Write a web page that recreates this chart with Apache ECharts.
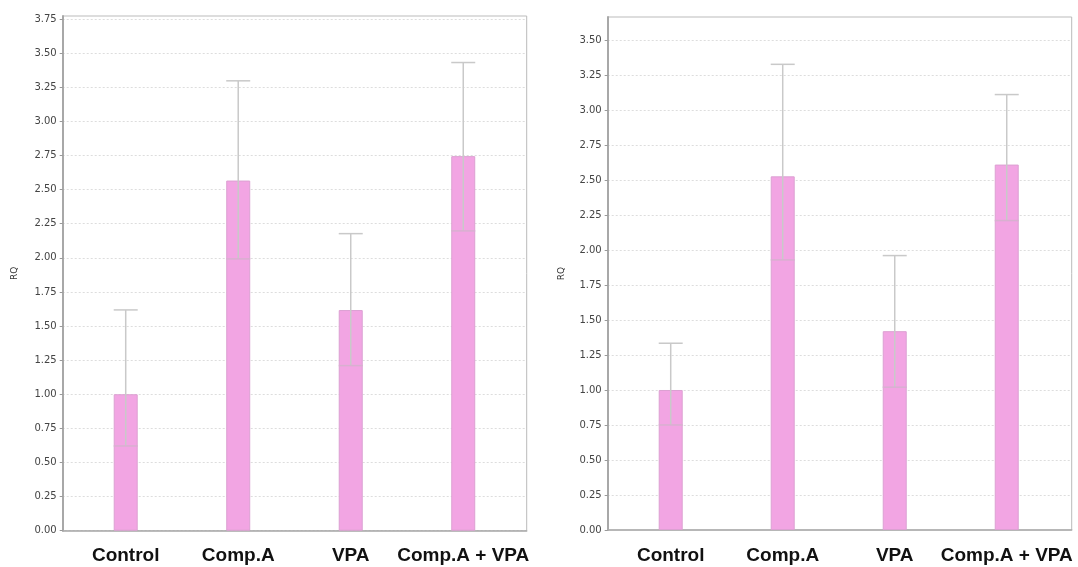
<!DOCTYPE html>
<html>
<head>
<meta charset="utf-8">
<script src="https://cdn.jsdelivr.net/npm/echarts@6/dist/echarts.min.js"></script>
<style>html,body{margin:0;padding:0;background:#fff;}#c{width:1078px;height:567px;}</style>
</head>
<body>
<div id="c"></div>
<script>
var categories = ['Control', 'Comp.A', 'VPA', 'Comp.A + VPA'];
// Left panel
var leftMean  = [1.00, 2.566, 1.617, 2.745];
var leftUpper = [1.618, 3.297, 2.177, 3.431];
var leftLower = [0.621, 1.992, 1.210, 2.197];
// Right panel
var rightMean  = [1.00, 2.526, 1.42, 2.61];
var rightUpper = [1.334, 3.326, 1.96, 3.11];
var rightLower = [0.75, 1.929, 1.02, 2.21];
var yTicksStep = 0.25;

var chart = echarts.init(document.getElementById('c'));

function pairs(vals) { return vals.map(function (v, i) { return [i, v]; }); }
function errData(lo, hi) { return lo.map(function (v, i) { return [i, v, hi[i]]; }); }

function renderErr(params, api) {
  var x = api.value(0);
  var lo = api.coord([x, api.value(1)]);
  var hi = api.coord([x, api.value(2)]);
  var hw = 12;
  var st = { stroke: '#c9c9c9', lineWidth: 1.5 };
  return {
    type: 'group',
    children: [
      { type: 'line', shape: { x1: lo[0], y1: lo[1], x2: hi[0], y2: hi[1] }, style: st },
      { type: 'line', shape: { x1: hi[0] - hw, y1: hi[1], x2: hi[0] + hw, y2: hi[1] }, style: st },
      { type: 'line', shape: { x1: lo[0] - hw, y1: lo[1], x2: lo[0] + hw, y2: lo[1] }, style: { stroke: '#d8b0d0', lineWidth: 1.5 } }
    ]
  };
}

function xAxisCfg(idx, min, max) {
  return {
    type: 'value', gridIndex: idx, min: min, max: max,
    splitLine: { show: false },
    axisTick: { show: false },
    axisLine: { show: true, onZero: false, lineStyle: { color: '#aaaaaa', width: 1.5 } },
    axisLabel: {
      customValues: [0, 1, 2, 3],
      formatter: function (v) { return categories[Math.round(v)]; },
      color: '#111', fontFamily: 'Liberation Sans, Arial', fontWeight: 'bold', fontSize: 19,
      margin: 16
    }
  };
}

function yAxisCfg(idx, max, gap) {
  return {
    type: 'value', gridIndex: idx, min: 0, max: max, interval: yTicksStep,
    name: 'RQ', nameLocation: 'middle', nameGap: gap, nameRotate: 90,
    nameTextStyle: { fontFamily: 'DejaVu Sans', fontSize: 9, color: '#333' },
    axisLine: { show: true, onZero: false, lineStyle: { color: '#a8a8a8', width: 2 } },
    axisTick: { show: true, length: 3, lineStyle: { color: '#999' } },
    axisLabel: {
      showMaxLabel: false, margin: 6,
      formatter: function (v) { return v.toFixed(2); },
      fontFamily: 'DejaVu Sans', fontSize: 10, color: '#444'
    },
    splitLine: { show: true, lineStyle: { type: [2, 2], color: '#dddddd', width: 1 } }
  };
}

var barStyle = { color: '#f2a5e3', borderColor: '#dca0d2', borderWidth: 1 };

chart.setOption({
  animation: false,
  backgroundColor: '#ffffff',
  grid: [
    { left: 62.7, right: 551.3, top: 16, bottom: 36.3, show: true, borderColor: '#bbbbbb', borderWidth: 1 },
    { left: 607.7, right: 6.3, top: 17, bottom: 37, show: true, borderColor: '#bbbbbb', borderWidth: 1 }
  ],
  xAxis: [ xAxisCfg(0, -0.56, 3.564), xAxisCfg(1, -0.5625, 3.58) ],
  yAxis: [ yAxisCfg(0, 3.772, 44), yAxisCfg(1, 3.664, 42) ],
  series: [
    { type: 'bar', xAxisIndex: 0, yAxisIndex: 0, barWidth: 24, data: pairs(leftMean), itemStyle: barStyle },
    { type: 'custom', xAxisIndex: 0, yAxisIndex: 0, renderItem: renderErr, data: errData(leftLower, leftUpper), z: 5 },
    { type: 'bar', xAxisIndex: 1, yAxisIndex: 1, barWidth: 24, data: pairs(rightMean), itemStyle: barStyle },
    { type: 'custom', xAxisIndex: 1, yAxisIndex: 1, renderItem: renderErr, data: errData(rightLower, rightUpper), z: 5 }
  ]
});
</script>
</body>
</html>
